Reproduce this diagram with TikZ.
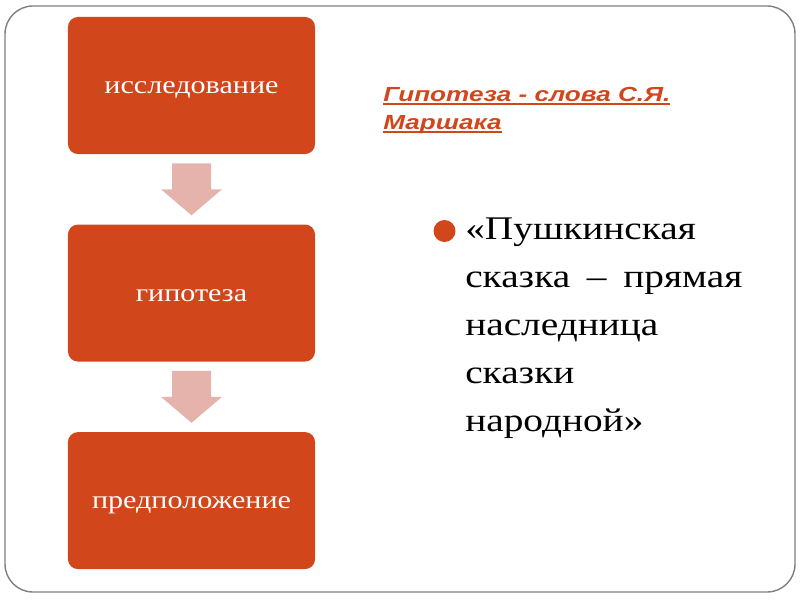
\documentclass[tikz,border=0pt]{standalone}
\usepackage{fontspec}
\setmainfont{Liberation Serif}[FakeStretch=1.19]
\newfontfamily\headfont{Liberation Sans}[FakeStretch=1.28]
\usetikzlibrary{positioning, calc}
\definecolor{rust}{HTML}{D1461A}
\definecolor{blush}{HTML}{E6B2AC}
\definecolor{framegray}{HTML}{7F7F7F}
\newcommand\ulined[1]{\setbox0\hbox{#1}\rlap{\rule[-2.2pt]{\wd0}{1pt}}\box0}

\begin{document}
\begin{tikzpicture}[x=0.025cm, y=-0.025cm, node distance=5.1875cm,
  box/.style={rectangle, rounded corners=0.25cm, fill=rust, minimum width=6.175cm, minimum height=3.425cm, text=white, text height=1.16em, text depth=0pt, font=\fontsize{18}{22}\selectfont}]
  \useasboundingbox (0,0) rectangle (800,600);
  \draw[framegray, line width=1pt, rounded corners=0.7cm] (5,6) rectangle (795,592);

  \node[box] (B1) at (191.5,85.5) {исследование};
  \node[box, below of=B1] (B2) {гипотеза};
  \node[box, below of=B2] (B3) {предположение};

  \foreach \i/\j in {1/2, 2/3} {
    \coordinate (A\i) at ($(B\i.south)!0.5!(B\j.north)$);
    \fill[blush] ($(A\i)+(-19.5,-26)$) -- ($(A\i)+(19.5,-26)$) -- ($(A\i)+(19.5,0)$) -- ($(A\i)+(30.5,0)$)
      -- ($(A\i)+(0,26)$) -- ($(A\i)+(-30.5,0)$) -- ($(A\i)+(-19.5,0)$) -- cycle;
  }

  \node[anchor=north west, inner sep=0pt, align=left, text=rust, font=\headfont\bfseries\itshape\fontsize{14.5}{20}\selectfont] (T) at (383,87) {\ulined{Гипотеза - слова С.Я.}\\\ulined{Маршака}};

  \node[circle, fill=rust, minimum size=0.55cm, inner sep=0pt] (dot) at (444.5,231) {};
  \node[anchor=north west, inner sep=0pt, align=left, font=\fontsize{23.5}{34}\selectfont] (Q) at (465,218) {«Пушкинская\\\makebox[197pt][s]{сказка\hfill –\hfill прямая}\\наследница\\сказки\\народной»};
\end{tikzpicture}
\end{document}
